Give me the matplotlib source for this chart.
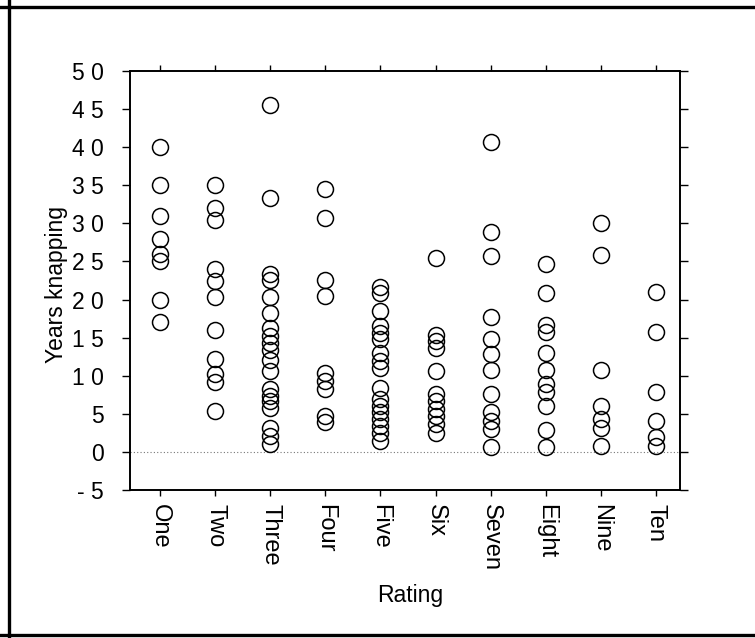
import matplotlib
matplotlib.use("Agg")
import matplotlib.pyplot as plt
from matplotlib.lines import Line2D

plt.rcParams["font.family"] = ["Liberation Sans", "DejaVu Sans"]

# ---- data ------------------------------------------------------------------
RATINGS = ["One", "Two", "Three", "Four", "Five",
           "Six", "Seven", "Eight", "Nine", "Ten"]

one   = [40, 35, 31, 28, 26, 25, 20, 17]
two   = [35, 32, 30.5, 24, 22.5, 20.3, 16, 12.2, 10.2, 9.2, 5.4]
three = [45.5, 33.3, 23.3, 22.6, 20.3, 18.2, 16.3, 15.2, 14.3, 13.4,
         12.1, 10.6, 8.2, 7.3, 6.7, 5.8, 3.2, 2.1, 1.0]
four  = [34.5, 30.7, 22.6, 20.5, 10.4, 9.3, 8.2, 4.7, 3.9]
five  = [21.7, 20.9, 18.5, 16.5, 15.6, 14.8, 13.0, 11.9, 11.0,
         8.4, 6.9, 6.0, 5.2, 4.3, 3.4, 2.5, 1.4]
six   = [25.5, 15.4, 14.5, 13.7, 10.6, 7.6, 6.7, 5.6, 4.7, 3.6, 2.5]
seven = [40.7, 28.9, 25.7, 17.7, 14.8, 12.8, 10.8, 7.6, 5.2, 4.1, 3.0, 0.6]
eight = [24.7, 20.9, 16.7, 15.8, 13.0, 10.7, 8.9, 7.8, 6.0, 2.9, 0.6]
nine  = [30.0, 25.9, 10.8, 6.0, 4.3, 3.2, 0.8]
ten   = [21.0, 15.8, 7.8, 4.1, 1.9, 0.8]

YEARS = [one, two, three, four, five, six, seven, eight, nine, ten]

Y_TICKS = [-5, 0, 5, 10, 15, 20, 25, 30, 35, 40, 45, 50]
Y_TICK_LABELS = ["- 5", "0", "5", "1 0", "1 5", "2 0", "2 5",
                 "3 0", "3 5", "4 0", "4 5", "5 0"]

# ---- figure ----------------------------------------------------------------
W, H = 755, 638
fig = plt.figure(figsize=(W / 100, H / 100), dpi=100)
fig.patch.set_facecolor("white")
ax = fig.add_axes([130 / W, 1 - 490 / H, 550 / W, 419 / H])

positions = list(range(1, len(RATINGS) + 1))
for pos, vals in zip(positions, YEARS):
    ax.plot([pos] * len(vals), vals, "o", ls="none",
            mfc="none", mec="black", ms=11.5, mew=1.1, zorder=3)

# dotted zero line
ax.axhline(0, color="#777777", lw=0.8, ls=(0, (1, 2)), zorder=1)

ax.set_xlim(0.456, 10.437)
ax.set_ylim(-5, 50)

ax.set_yticks(Y_TICKS)
ax.set_yticklabels(Y_TICK_LABELS, fontsize=16.5)
ax.set_xticks(positions)
ax.set_xticklabels(RATINGS, fontsize=17, rotation=-90, va="top")

ax.tick_params(axis="y", direction="out", length=6, width=1.0,
               pad=13, right=True, labelright=False)
ax.tick_params(axis="x", direction="out", length=4, width=1.0,
               pad=6, top=True, labeltop=False)

for sp in ax.spines.values():
    sp.set_linewidth(1.4)
    sp.set_color("black")

ax.set_xlabel("Rating", fontsize=16.5)
ax.xaxis.set_label_coords(0.51, -0.225)
ax.set_ylabel("Years knapping", fontsize=16.5)
ax.yaxis.set_label_coords(-0.112, 0.49)

# scanned page frame (left, top, bottom)
frame = dict(color="black", lw=2.4, transform=fig.transFigure, figure=fig)
fig.lines.extend([
    Line2D([9 / W, 9 / W], [0, 1], **frame),
    Line2D([0, 1], [1 - 7 / H, 1 - 7 / H], **frame),
    Line2D([0, 1], [1 - 635 / H, 1 - 635 / H], **frame),
])

fig.savefig("out.png", dpi=100, facecolor="white")
